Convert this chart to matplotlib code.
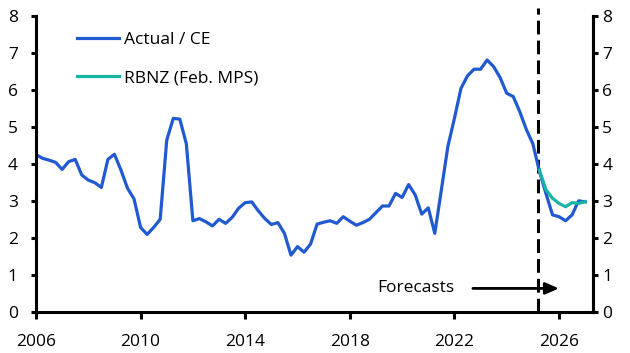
import numpy as np
import matplotlib
matplotlib.use('Agg')
import matplotlib.pyplot as plt

plt.rcParams['font.family'] = ['Open Sans', 'DejaVu Sans']

# Trimestres de 2006T1 à 2027T1
quarters = 2006 + 0.25 * np.arange(85)

# Série Actual / CE
actual = [4.25, 4.15, 4.10, 4.04, 3.85, 4.06, 4.12, 3.70, 3.56, 3.49,
          3.36, 4.12, 4.26, 3.83, 3.34, 3.05, 2.28, 2.09, 2.28, 2.50,
          4.64, 5.23, 5.21, 4.54, 2.46, 2.52, 2.43, 2.32, 2.50, 2.39,
          2.55, 2.80, 2.95, 2.97, 2.73, 2.52, 2.36, 2.41, 2.12, 1.53,
          1.76, 1.61, 1.83, 2.37, 2.42, 2.46, 2.39, 2.57, 2.45, 2.34,
          2.41, 2.50, 2.68, 2.86, 2.86, 3.20, 3.09, 3.44, 3.16, 2.64,
          2.81, 2.12, 3.29, 4.47, 5.23, 6.04, 6.38, 6.56, 6.56, 6.81,
          6.63, 6.33, 5.91, 5.82, 5.41, 4.93, 4.54, 3.80, 3.20, 2.62,
          2.57, 2.46, 2.62, 3.00, 2.97]

# Projection RBNZ (Feb. MPS), à partir de 2025T2
rbnz_x = quarters[77:]
rbnz = [3.83, 3.30, 3.07, 2.93, 2.84, 2.95, 2.93, 2.98]

forecast_start = 2025.2
year_ticks = [2006, 2010, 2014, 2018, 2022, 2026]
y_ticks = [0, 1, 2, 3, 4, 5, 6, 7, 8]

blue = '#2159D0'
teal = '#17B3A3'
fs = 12.5

fig = plt.figure(figsize=(6.3, 3.53), dpi=100)
ax = fig.add_axes([0.0571, 0.117, 0.8842, 0.8377])

ax.plot(quarters, actual, color=blue, lw=2.3, label='Actual / CE', solid_joinstyle='round')
ax.plot(rbnz_x, rbnz, color=teal, lw=2.3, label='RBNZ (Feb. MPS)', solid_joinstyle='round')

ax.set_xlim(2006, 2027.3)
ax.set_ylim(0, 8)

# ligne verticale du début des prévisions
ax.plot([forecast_start, forecast_start], [0, 8.22], color='black', lw=2.2,
        dashes=(4.5, 2), clip_on=False, zorder=1)

# flèche "Forecasts"
ax.text(2019.05, 0.63, 'Forecasts', fontsize=fs, va='center', ha='left')
ax.annotate('', xy=(2026.1, 0.63), xytext=(2022.6, 0.63),
            arrowprops=dict(arrowstyle='-|>,head_length=0.8,head_width=0.35',
                            color='black', lw=2))

ax.spines['top'].set_visible(False)
for s in ['left', 'right', 'bottom']:
    ax.spines[s].set_linewidth(2.2)

ax.set_xticks(year_ticks)
ax.set_yticks(y_ticks)
ax.tick_params(axis='x', length=4.8, width=2.2, pad=11, labelsize=fs)
ax.tick_params(axis='y', length=3.6, width=2.2, pad=9.5, labelsize=fs)

ax2 = ax.twinx()
ax2.set_ylim(0, 8)
ax2.set_yticks(y_ticks)
ax2.tick_params(axis='y', length=3.6, width=2.2, pad=3, labelsize=fs)
for s in ['top', 'left', 'bottom']:
    ax2.spines[s].set_visible(False)
ax2.spines['right'].set_linewidth(2.2)

ax.legend(loc='upper left', bbox_to_anchor=(0.074, 0.945), frameon=False,
          fontsize=fs, handlelength=2.4, handletextpad=0.3, labelspacing=1.25,
          borderpad=0, borderaxespad=0)

plt.savefig('out.png', dpi=100)
